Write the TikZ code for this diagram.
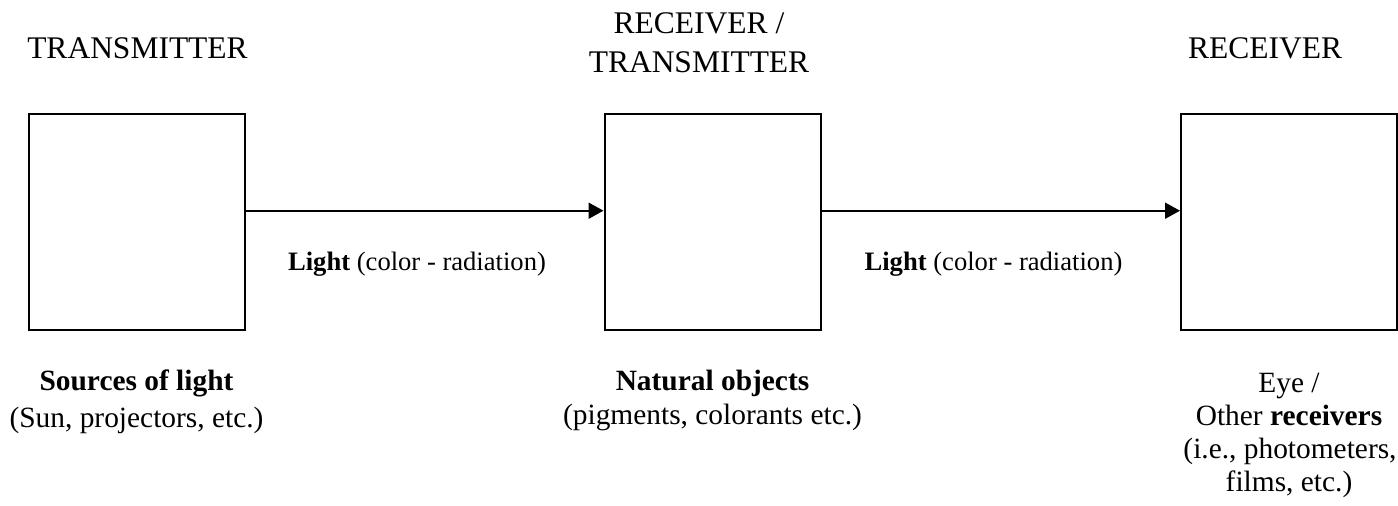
\documentclass[tikz,border=0pt]{standalone}
\usepackage{fontspec}
\setmainfont{Liberation Serif}
\usetikzlibrary{arrows.meta}
\begin{document}
\begin{tikzpicture}[x=1pt,y=-1pt,
  box/.style={draw=black,line width=2pt,rectangle,inner sep=0pt,minimum width=216pt,minimum height=216pt},
  head/.style={inner sep=0pt,anchor=base,font=\fontsize{31.5}{36}\selectfont},
  sub/.style={inner sep=0pt,anchor=base,font=\fontsize{29.4}{34}\selectfont},
  lbl/.style={inner sep=0pt,anchor=base,font=\fontsize{26.6}{31}\selectfont},
  arr/.style={line width=2pt,-{Triangle[length=15pt,width=16pt]}}]
\useasboundingbox (0,0) rectangle (1398,506);
\node[box] (b1) at (136.5,222) {};
\node[box] (b2) at (712.5,222) {};
\node[box] (b3) at (1289,222) {};
\draw[arr] ([yshift=11.3pt]b1.east) -- ([yshift=11.3pt]b2.west);
\draw[arr] ([yshift=11.3pt]b2.east) -- ([yshift=11.3pt]b3.west);
\node[head] (h1) at (137.5,58) {TRANSMITTER};
\node[head] (h2a) at (699,33) {RECEIVER /};
\node[head] (h2b) at (699,72) {TRANSMITTER};
\node[head] (h3) at (1265,58) {RECEIVER};
\node[lbl] (l1) at (417,270) {\textbf{Light} (color - radiation)};
\node[lbl] (l2) at (993.5,270) {\textbf{Light} (color - radiation)};
\node[sub] (s1a) at (136.5,390) {\textbf{Sources of light}};
\node[sub] (s1b) at (136.5,427) {(Sun, projectors, etc.)};
\node[sub] (s2a) at (712.5,390) {\textbf{Natural objects}};
\node[sub] (s2b) at (712.5,424) {(pigments, colorants etc.)};
\node[sub] (s3a) at (1289,392) {Eye /};
\node[sub] (s3b) at (1289,425) {Other \textbf{receivers}};
\node[sub] (s3c) at (1290,458) {(i.e., photometers,};
\node[sub] (s3d) at (1289,491) {films, etc.)};
\end{tikzpicture}
\end{document}
